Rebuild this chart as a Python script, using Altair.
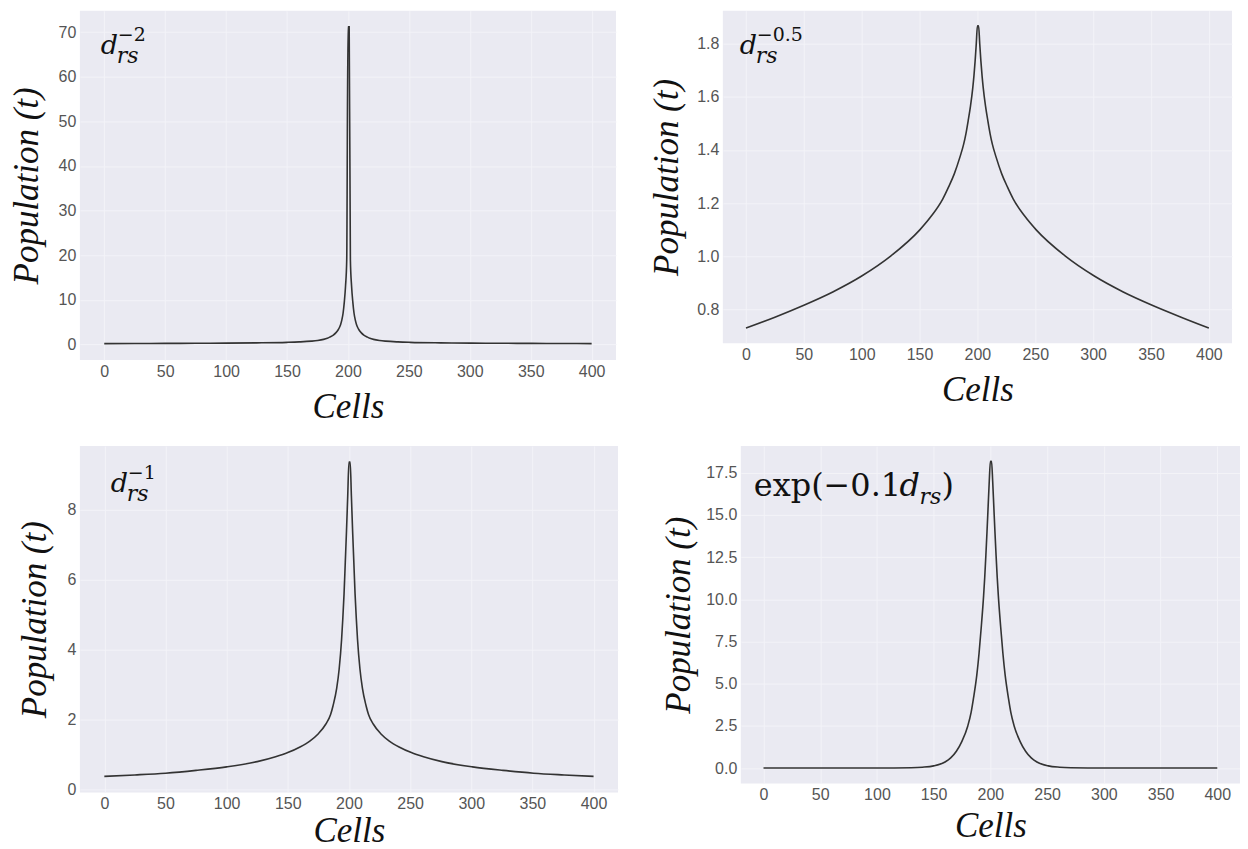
import altair as alt
import pandas as pd

# ---------------- data ----------------
X_TICKS = [0, 50, 100, 150, 200, 250, 300, 350, 400]

# panel 1: d_rs^-2
cells_p1 = [0, 25, 50, 75, 100, 125, 150, 160, 170, 175, 180, 183, 185, 188, 190, 192, 193, 194,
            195, 196, 197, 198, 199, 200, 201, 202, 203, 204, 205, 206, 207, 208, 209, 211, 213,
            216, 218, 221, 226, 231, 241, 251, 276, 301, 326, 351, 376, 400]
pop_p1 = [0.2, 0.22, 0.24, 0.27, 0.3, 0.36, 0.48, 0.58, 0.75, 0.9, 1.15, 1.4, 1.65, 2.1, 2.6, 3.3, 3.8, 4.5,
          5.5, 7.0, 9.5, 13.0, 19.0, 71.2, 71.2, 19.0, 13.0, 9.5, 7.0, 5.5, 4.5, 3.8, 3.3, 2.6, 2.1,
          1.65, 1.4, 1.15, 0.9, 0.75, 0.58, 0.48, 0.36, 0.3, 0.27, 0.24, 0.22, 0.2]
yticks_p1 = [0, 10, 20, 30, 40, 50, 60, 70]

# panel 2: d_rs^-0.5
cells_p2 = [0, 25, 50, 75, 100, 125, 150, 160, 170, 175, 180, 185, 188, 190, 192, 194, 196, 197, 198,
            199, 200, 201, 202, 203, 204, 205, 207, 209, 211, 213, 216, 221, 226, 231, 241, 251, 276,
            301, 326, 351, 376, 400]
pop_p2 = [0.729, 0.77, 0.815, 0.865, 0.925, 1.0, 1.098, 1.15, 1.215, 1.26, 1.31, 1.375, 1.42, 1.46, 1.51,
          1.565, 1.635, 1.68, 1.735, 1.8, 1.868, 1.868, 1.8, 1.735, 1.68, 1.635, 1.565, 1.51, 1.46, 1.42,
          1.375, 1.31, 1.26, 1.215, 1.15, 1.098, 1.0, 0.925, 0.865, 0.815, 0.77, 0.729]
yticks_p2 = [0.8, 1.0, 1.2, 1.4, 1.6, 1.8]

# panel 3: d_rs^-1
cells_p3 = [0, 25, 50, 75, 100, 125, 140, 150, 160, 168, 175, 181, 185, 187, 190, 192, 194, 195, 196,
            197, 198, 199, 200, 201, 202, 203, 204, 205, 206, 207, 209, 211, 214, 216, 220, 226, 233,
            241, 251, 261, 276, 301, 326, 351, 376, 400]
pop_p3 = [0.38, 0.42, 0.47, 0.55, 0.65, 0.80, 0.94, 1.06, 1.22, 1.39, 1.6, 1.87, 2.15, 2.4, 2.9, 3.45,
          4.3, 4.9, 5.6, 6.5, 7.4, 8.4, 9.37, 9.37, 8.4, 7.4, 6.5, 5.6, 4.9, 4.3, 3.45, 2.9, 2.4, 2.15,
          1.87, 1.6, 1.39, 1.22, 1.06, 0.94, 0.80, 0.65, 0.55, 0.47, 0.42, 0.38]
yticks_p3 = [0, 2, 4, 6, 8]

# panel 4: exp(-0.1 d_rs)
cells_p4 = [0, 50, 100, 130, 140, 150, 160, 165, 170, 175, 180, 183, 185, 188, 190, 192, 194, 195, 196,
            197, 198, 199, 200, 201, 202, 203, 204, 205, 206, 207, 209, 211, 213, 216, 218, 221, 226,
            231, 236, 241, 251, 261, 271, 301, 351, 400]
pop_p4 = [0.0, 0.0, 0.0, 0.02, 0.05, 0.13, 0.36, 0.6, 1.0, 1.6, 2.48, 3.3, 4.1, 5.5, 6.8, 8.4, 10.2, 11.3,
          12.6, 14.0, 15.5, 17.0, 18.17, 18.17, 17.0, 15.5, 14.0, 12.6, 11.3, 10.2, 8.4, 6.8, 5.5, 4.1,
          3.3, 2.48, 1.6, 1.0, 0.6, 0.36, 0.13, 0.05, 0.02, 0.0, 0.0, 0.0]
yticks_p4 = [0.0, 2.5, 5.0, 7.5, 10.0, 12.5, 15.0, 17.5]

# annotation texts (math labels)
ann_p1 = ["d", "rs", "\u22122"]
ann_p2 = ["d", "rs", "\u22120.5"]
ann_p3 = ["d", "rs", "\u22121"]
ann_p4 = ["exp(\u22120.1", "d", "rs", ")"]

X_TITLE = "Cells"
Y_TITLE = "Population (t)"

LINE_COLOR = "#333333"
TEXT_COLOR = "#111111"
MATH_FONT = "DejaVu Serif"


def txt(s, x, y, size, italic):
    return alt.Chart(pd.DataFrame({"t": [s]})).mark_text(
        align="left", baseline="alphabetic", font=MATH_FONT,
        fontStyle="italic" if italic else "normal", fontSize=size, color=TEXT_COLOR
    ).encode(x=alt.value(x), y=alt.value(y), text="t:N")


def panel(cells, pops, ydom, yticks, yfmt, w, h, title_x, x_label_pad, x_title_pad, notes):
    df = pd.DataFrame({"cell": cells, "pop": pops})
    line = alt.Chart(df).mark_line(
        color=LINE_COLOR, strokeWidth=1.6, interpolate="monotone"
    ).encode(
        x=alt.X("cell:Q", scale=alt.Scale(domain=[-20, 420], nice=False, zero=False),
                axis=alt.Axis(values=X_TICKS, title=X_TITLE, labelPadding=x_label_pad,
                              titlePadding=x_title_pad)),
        y=alt.Y("pop:Q", scale=alt.Scale(domain=ydom, nice=False, zero=False),
                axis=alt.Axis(values=yticks, format=yfmt, title=Y_TITLE, labelPadding=4,
                              titleX=title_x)),
    )
    return alt.layer(line, *notes).properties(width=w, height=h)


p1 = panel(cells_p1, pop_p1, [-3.5, 74.8], yticks_p1, "d", 537, 350, -35, 3, 10,
           [txt(ann_p1[0], 21, 43, 27, True), txt(ann_p1[1], 37, 52, 22, True),
            txt(ann_p1[2], 38, 30, 19, False)])
p2 = panel(cells_p2, pop_p2, [0.672, 1.925], yticks_p2, ".1f", 510, 333, -38, 3, 10,
           [txt(ann_p2[0], 17, 43, 27, True), txt(ann_p2[1], 33, 52, 22, True),
            txt(ann_p2[2], 34, 30, 19, False)])
p3 = panel(cells_p3, pop_p3, [-0.08, 9.83], yticks_p3, "d", 539, 347, -27, 3, 2,
           [txt(ann_p3[0], 31, 46, 27, True), txt(ann_p3[1], 47, 55, 22, True),
            txt(ann_p3[2], 48, 33, 19, False)])
p4 = panel(cells_p4, pop_p4, [-0.91, 19.08], yticks_p4, ".1f", 500, 338, -44, 3, 6,
           [txt(ann_p4[0], 13, 50, 32, False), txt(ann_p4[1], 159, 50, 32, True),
            txt(ann_p4[2], 179, 58, 22, True), txt(ann_p4[3], 201, 50, 32, False)])

row1 = alt.hconcat(p1, p2, spacing=107, bounds="flush")
row2 = alt.hconcat(p3, p4, spacing=123, bounds="flush")

chart = alt.vconcat(row1, row2, spacing=22).properties(
    padding={"left": 2, "top": 2, "right": 0, "bottom": 0}
).configure_axis(
    domain=False, ticks=False, grid=True, gridColor="#F3F3F8", gridWidth=1,
    labelFont="Liberation Sans", labelFontSize=16, labelColor="#555555",
    titleFont="Liberation Serif", titleFontStyle="italic", titleFontWeight="normal",
    titleFontSize=35, titleColor=TEXT_COLOR
).configure_view(fill="#EAEAF2", strokeWidth=0)

chart.save("out.html", embed_options={"renderer": "svg", "actions": False})
